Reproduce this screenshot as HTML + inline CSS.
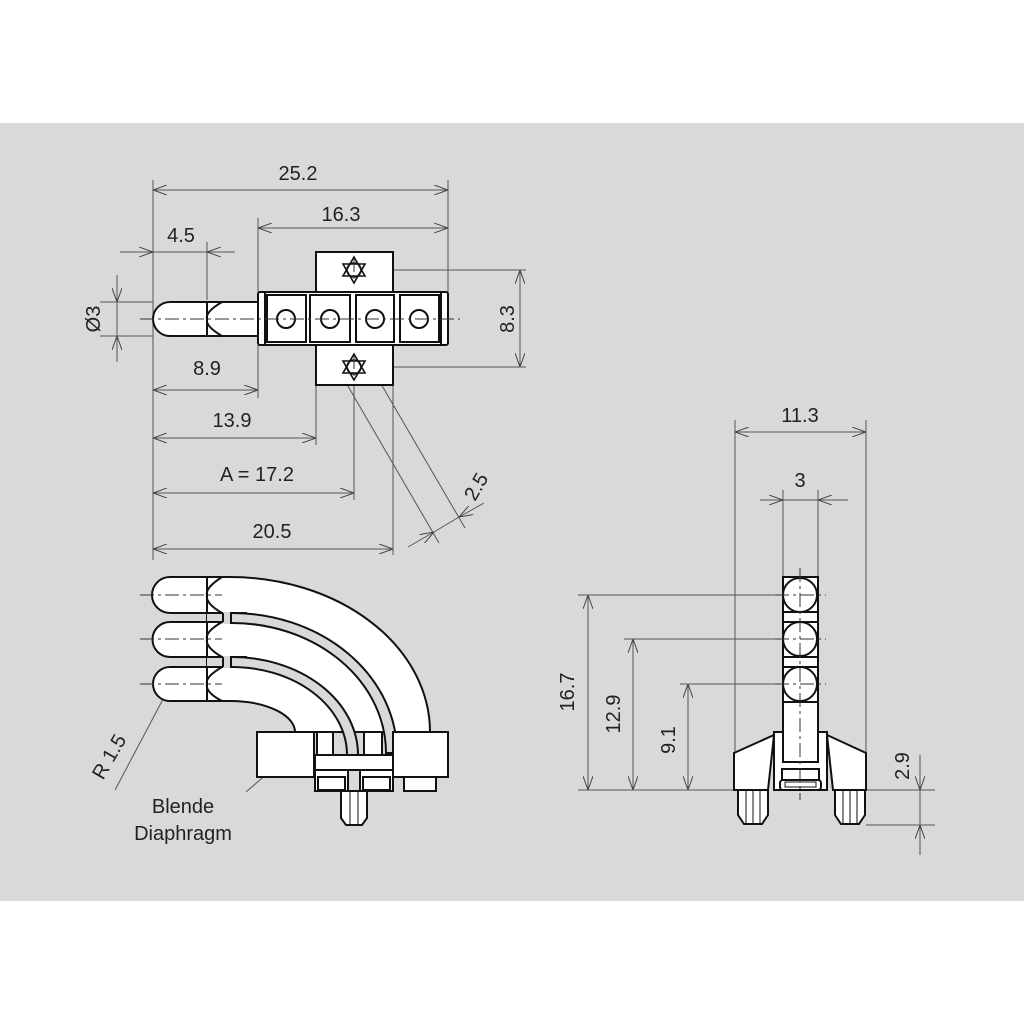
<!DOCTYPE html>
<html><head><meta charset="utf-8"><style>
html,body{margin:0;padding:0;background:#fff}
svg{display:block}
text{font-family:"Liberation Sans",sans-serif;font-size:20px;fill:#222}
</style></head><body>
<svg width="1024" height="1024" viewBox="0 0 1024 1024" xmlns="http://www.w3.org/2000/svg">
<defs>
<marker id="a" viewBox="0 0 14 10" refX="14" refY="5" markerWidth="14" markerHeight="10" orient="auto-start-reverse" markerUnits="userSpaceOnUse">
<path d="M0,0 L14,5 L0,10" fill="none" stroke="#444" stroke-width="1"/></marker>
</defs>
<rect x="0" y="123" width="1024" height="778" fill="#d9d9d9"/>

<g stroke="#555" stroke-width="1" fill="none">
<line x1="153" y1="180" x2="153" y2="560"/>
<line x1="258" y1="218" x2="258" y2="292"/>
<line x1="258" y1="345" x2="258" y2="398"/>
<line x1="448" y1="180" x2="448" y2="292"/>
<line x1="207" y1="242" x2="207" y2="300"/>
<line x1="316" y1="385" x2="316" y2="445"/>
<line x1="354" y1="385" x2="354" y2="500"/>
<line x1="393" y1="385" x2="393" y2="555"/>
<line x1="100" y1="302" x2="153" y2="302"/>
<line x1="100" y1="336" x2="153" y2="336"/>
<line x1="362" y1="270" x2="526" y2="270"/>
<line x1="374" y1="367" x2="526" y2="367"/>
<line x1="153" y1="190" x2="448" y2="190" marker-start="url(#a)" marker-end="url(#a)"/>
<line x1="258" y1="228" x2="448" y2="228" marker-start="url(#a)" marker-end="url(#a)"/>
<line x1="120" y1="252" x2="153" y2="252" marker-end="url(#a)"/>
<line x1="235" y1="252" x2="207" y2="252" marker-end="url(#a)"/>
<line x1="153" y1="252" x2="207" y2="252"/>
<line x1="117" y1="275" x2="117" y2="302" marker-end="url(#a)"/>
<line x1="117" y1="362" x2="117" y2="336" marker-end="url(#a)"/>
<line x1="117" y1="302" x2="117" y2="336"/>
<line x1="520" y1="270" x2="520" y2="367" marker-start="url(#a)" marker-end="url(#a)"/>
<line x1="153" y1="390" x2="258" y2="390" marker-start="url(#a)" marker-end="url(#a)"/>
<line x1="153" y1="438" x2="316" y2="438" marker-start="url(#a)" marker-end="url(#a)"/>
<line x1="153" y1="493" x2="354" y2="493" marker-start="url(#a)" marker-end="url(#a)"/>
<line x1="153" y1="549" x2="393" y2="549" marker-start="url(#a)" marker-end="url(#a)"/>
<line x1="345" y1="381" x2="439" y2="543"/>
<line x1="370" y1="365" x2="465" y2="528"/>
<line x1="408" y1="547" x2="434" y2="532" marker-end="url(#a)"/>
<line x1="484" y1="503" x2="459" y2="517" marker-end="url(#a)"/>
<line x1="434" y1="532" x2="459" y2="517"/>
<line x1="115" y1="790" x2="170" y2="686" marker-end="url(#a)"/>
<line x1="246" y1="792" x2="283" y2="760"/>

<line x1="735" y1="420" x2="735" y2="752"/>
<line x1="866" y1="420" x2="866" y2="752"/>
<line x1="735" y1="432" x2="866" y2="432" marker-start="url(#a)" marker-end="url(#a)"/>
<line x1="783" y1="490" x2="783" y2="577"/>
<line x1="818" y1="490" x2="818" y2="577"/>
<line x1="760" y1="500" x2="783" y2="500" marker-end="url(#a)"/>
<line x1="848" y1="500" x2="818" y2="500" marker-end="url(#a)"/>
<line x1="783" y1="500" x2="818" y2="500"/>
<line x1="578" y1="595" x2="780" y2="595"/>
<line x1="624" y1="639" x2="780" y2="639"/>
<line x1="680" y1="684" x2="780" y2="684"/>
<line x1="578" y1="790" x2="735" y2="790"/>
<line x1="866" y1="790" x2="935" y2="790"/>
<line x1="866" y1="825" x2="935" y2="825"/>
<line x1="588" y1="595" x2="588" y2="790" marker-start="url(#a)" marker-end="url(#a)"/>
<line x1="633" y1="639" x2="633" y2="790" marker-start="url(#a)" marker-end="url(#a)"/>
<line x1="688" y1="684" x2="688" y2="790" marker-start="url(#a)" marker-end="url(#a)"/>
<line x1="920" y1="755" x2="920" y2="790" marker-end="url(#a)"/>
<line x1="920" y1="855" x2="920" y2="825" marker-end="url(#a)"/>
<line x1="920" y1="790" x2="920" y2="825"/>
</g>

<!-- TOP VIEW -->
<g stroke="#111" stroke-width="2" fill="#fff">
<rect x="316" y="252" width="77" height="40"/>
<rect x="316" y="345" width="77" height="40"/>
<path d="M170,302 H258 V336 H170 A17,17 0 0 1 170,302 Z"/>
<path d="M207,302 V336 M222,302 Q205,312 207,319 Q205,326 222,336" fill="none"/>
<rect x="258" y="292" width="190" height="53" rx="2"/>
<line x1="265" y1="292" x2="265" y2="345"/>
<line x1="441" y1="292" x2="441" y2="345"/>
<rect x="267" y="295" width="39" height="47"/>
<rect x="310" y="295" width="40" height="47"/>
<rect x="356" y="295" width="38" height="47"/>
<rect x="400" y="295" width="39" height="47"/>
<circle cx="286" cy="319" r="9"/><circle cx="330" cy="319" r="9"/>
<circle cx="375" cy="319" r="9"/><circle cx="419" cy="319" r="9"/>
<g fill="none" stroke-width="1.6">
<polygon points="354,257 365,276 343,276"/><polygon points="354,283 365,264 343,264"/>
<circle cx="354" cy="270" r="7"/>
<polygon points="354,354 365,373 343,373"/><polygon points="354,380 365,361 343,361"/>
<circle cx="354" cy="367" r="7"/>
</g>
</g>
<g stroke="#333" stroke-width="1" stroke-dasharray="14,4,3,4" fill="none">
<line x1="140" y1="319" x2="460" y2="319"/>
<line x1="354" y1="258" x2="354" y2="282"/><line x1="354" y1="355" x2="354" y2="380"/>
</g>

<!-- BOTTOM LEFT VIEW -->
<g stroke="#111" stroke-width="2" fill="#fff">
<path d="M207,577 H230 A200,155 0 0 1 430,732 L295,732 A65,31 0 0 0 230,701 H207 Z"/>
<rect x="207" y="613" width="17" height="10" fill="#d9d9d9" stroke="none"/>
<rect x="207" y="657" width="17" height="10" fill="#d9d9d9" stroke="none"/>
<path d="M207,613 H247 M207,622 H247 M207,657 H247 M207,667 H247" fill="none"/>
<rect x="223" y="612" width="8" height="12" fill="#d9d9d9" stroke="none"/>
<rect x="223" y="656" width="8" height="12" fill="#d9d9d9" stroke="none"/>
<path d="M223,613 V622 M223,657 V667" fill="none"/>
<path d="M231,613 A165,140 0 0 1 397,753 L386,753 A154,130 0 0 0 231,623 Z" fill="#d9d9d9"/>
<path d="M231,657 A126,98 0 0 1 358,755 L347,755 A115,88 0 0 0 231,667 Z" fill="#d9d9d9"/>
<path d="M170,577 H207 V613 H170 A18,18 0 0 1 170,577 Z"/>
<path d="M170,622 H207 V657 H170 A17.5,17.5 0 0 1 170,622 Z"/>
<path d="M170,667 H207 V701 H170 A17,17 0 0 1 170,667 Z"/>
<path d="M222,577 Q205,588 207,595 Q205,603 222,613 M222,622 Q205,632 207,639 Q205,647 222,657 M222,667 Q205,677 207,684 Q205,692 222,701" fill="none"/>
<rect x="257" y="732" width="57" height="45"/>
<rect x="393" y="732" width="55" height="45"/>
<rect x="317" y="732" width="16" height="23"/>
<rect x="364" y="732" width="18" height="23"/>
<rect x="315" y="755" width="78" height="15"/>
<path d="M315,770 H348 V791 H315 Z M360,770 H393 V791 H360 Z"/>
<rect x="318" y="777" width="27" height="13"/>
<rect x="363" y="777" width="27" height="13"/>
<rect x="404" y="777" width="32" height="14"/>
<path d="M341,791 H367 V818 L362,825 H346 L341,818 Z"/>
<line x1="350" y1="791" x2="350" y2="825" stroke-width="1"/>
<line x1="358" y1="791" x2="358" y2="825" stroke-width="1"/>
</g>
<g stroke="#333" stroke-width="1" stroke-dasharray="14,4,3,4" fill="none">
<line x1="140" y1="595" x2="222" y2="595"/>
<line x1="140" y1="639" x2="222" y2="639"/>
<line x1="140" y1="684" x2="222" y2="684"/>
</g>

<!-- RIGHT VIEW -->
<g stroke="#111" stroke-width="2" fill="#fff">
<path d="M734,753 L774,735 L768,790 L734,790 Z"/>
<path d="M827,735 L866,753 L866,790 L833,790 Z"/>
<rect x="774" y="732" width="53" height="58"/>
<rect x="783" y="577" width="35" height="185"/>
<line x1="783" y1="612" x2="818" y2="612"/><line x1="783" y1="622" x2="818" y2="622"/>
<line x1="783" y1="657" x2="818" y2="657"/><line x1="783" y1="667" x2="818" y2="667"/>
<line x1="783" y1="702" x2="818" y2="702"/>
<circle cx="800" cy="595" r="17"/><circle cx="800" cy="639" r="17"/><circle cx="800" cy="684" r="17"/>
<rect x="782" y="769" width="37" height="11"/>
<rect x="780" y="780" width="41" height="10" rx="3"/>
<rect x="785" y="782" width="31" height="5" stroke-width="1"/>
<path d="M738,790 H768 V815 L762,824 H744 L738,815 Z"/>
<path d="M835,790 H865 V815 L859,824 H841 L835,815 Z"/>
<g stroke-width="1"><line x1="746" y1="790" x2="746" y2="824"/><line x1="753" y1="790" x2="753" y2="824"/><line x1="760" y1="790" x2="760" y2="824"/>
<line x1="843" y1="790" x2="843" y2="824"/><line x1="850" y1="790" x2="850" y2="824"/><line x1="857" y1="790" x2="857" y2="824"/></g>
</g>
<g stroke="#333" stroke-width="1" stroke-dasharray="14,4,3,4" fill="none">
<line x1="800" y1="568" x2="800" y2="800"/>
<line x1="775" y1="595" x2="826" y2="595"/><line x1="775" y1="639" x2="826" y2="639"/><line x1="775" y1="684" x2="826" y2="684"/>
</g>

<text x="298" y="180" text-anchor="middle">25.2</text>
<text x="341" y="221" text-anchor="middle">16.3</text>
<text x="181" y="242" text-anchor="middle">4.5</text>
<text transform="translate(100,319) rotate(-90)" text-anchor="middle">Ø3</text>
<text transform="translate(514,319) rotate(-90)" text-anchor="middle">8.3</text>
<text x="207" y="375" text-anchor="middle">8.9</text>
<text x="232" y="427" text-anchor="middle">13.9</text>
<text x="257" y="481" text-anchor="middle">A = 17.2</text>
<text x="272" y="538" text-anchor="middle">20.5</text>
<text transform="translate(482,490) rotate(-60)" text-anchor="middle">2.5</text>
<text transform="translate(115,760) rotate(-60)" text-anchor="middle">R 1.5</text>
<text x="183" y="813" text-anchor="middle">Blende</text>
<text x="183" y="840" text-anchor="middle">Diaphragm</text>
<text x="800" y="422" text-anchor="middle">11.3</text>
<text x="800" y="487" text-anchor="middle">3</text>
<text transform="translate(574,692) rotate(-90)" text-anchor="middle">16.7</text>
<text transform="translate(620,714) rotate(-90)" text-anchor="middle">12.9</text>
<text transform="translate(675,740) rotate(-90)" text-anchor="middle">9.1</text>
<text transform="translate(909,766) rotate(-90)" text-anchor="middle">2.9</text>
</svg>
</body></html>
